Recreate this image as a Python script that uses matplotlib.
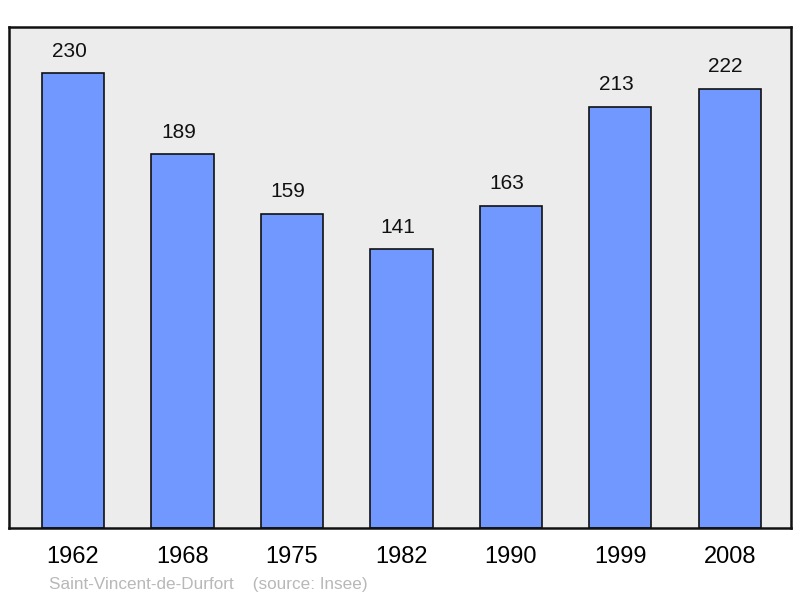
import matplotlib
matplotlib.use("Agg")
import matplotlib.pyplot as plt

years = ["1962", "1968", "1975", "1982", "1990", "1999", "2008"]
population = [230, 189, 159, 141, 163, 213, 222]
source_text = "Saint-Vincent-de-Durfort    (source: Insee)"

plt.rcParams['font.family'] = ['Liberation Sans', 'DejaVu Sans']

fig = plt.figure(figsize=(8, 5.98), dpi=100)
ax = fig.add_axes([9/800, 70/598, 782/800, 501/598])
ax.set_facecolor('#ececec')

x = list(range(len(years)))
ax.bar(x, population, width=0.57, color='#7098ff', edgecolor='#111111', linewidth=1.2, zorder=2)
for xi, v in zip(x, population):
    ax.annotate(str(v), (xi, v), xytext=(-2.9, 15.8), textcoords='offset points',
                ha='center', va='center', fontsize=15, color='#111111')

ax.set_xlim(-0.585, 6.56)
ax.set_ylim(0, 253.3)
ax.set_yticks([])
ax.set_xticks(x)
ax.set_xticklabels(years, fontsize=17)
ax.tick_params(axis='x', length=0, pad=13)
for s in ax.spines.values():
    s.set_linewidth(1.8)
    s.set_color('#111111')

fig.text(49/800, 1 - 584/598, source_text, fontsize=12.3, color='#b8b8b8', ha='left', va='center')

fig.savefig('out.png', dpi=100)
